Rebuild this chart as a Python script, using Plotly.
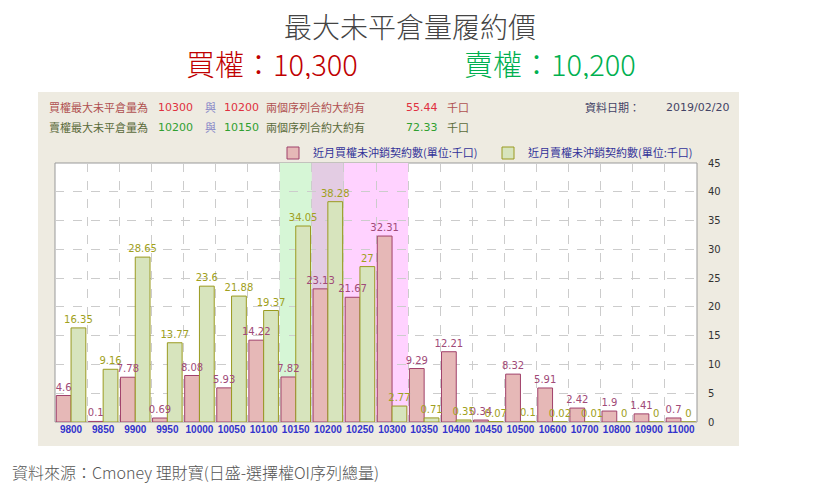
import plotly.graph_objects as go

strikes = ['9800', '9850', '9900', '9950', '10000', '10050', '10100', '10150', '10200', '10250',
           '10300', '10350', '10400', '10450', '10500', '10600', '10700', '10800', '10900', '11000']
call_oi = [4.6, 0.1, 7.78, 0.69, 8.08, 5.93, 14.22, 7.82, 23.13, 21.67,
           32.31, 9.29, 12.21, 0.34, 8.32, 5.91, 2.42, 1.9, 1.41, 0.7]
put_oi = [16.35, 9.16, 28.65, 13.77, 23.6, 21.88, 19.37, 34.05, 38.28, 27,
          2.77, 0.71, 0.35, 0.07, 0.1, 0.02, 0.01, 0, 0, 0]
y_ticks = [0, 5, 10, 15, 20, 25, 30, 35, 40, 45]

call_pair = ['10300', '10200']
put_pair = ['10200', '10150']
call_sum = '55.44'
put_sum = '72.33'
data_date = '2019/02/20'

# page puts the figure 8px in from the top-left corner
OFF = 8
W, H = 820, 495
L, R, T, B = 55 - OFF, 820 - 697 + OFF, 163 - OFF, 495 - 422 + OFF
pw, ph = W - L - R, H - T - B

def px(x):
    return (x - OFF - L) / pw

def py(y):
    return (H - B - (y - OFF)) / ph

cjk = 'Noto Sans CJK TC'
fig = go.Figure()

# bars first (no text), so labels drawn afterwards sit on top of every bar
fig.add_trace(go.Bar(
    x=strikes, y=call_oi, name='近月買權未沖銷契約數(單位:千口)', offsetgroup='c',
    marker=dict(color='#e6b8b7', line=dict(color='#a0406a', width=1)),
))
fig.add_trace(go.Bar(
    x=strikes, y=put_oi, name='近月賣權未沖銷契約數(單位:千口)', offsetgroup='p',
    marker=dict(color='#d7e4bd', line=dict(color='#9a9a20', width=1)),
))
for vals, grp, col in [(call_oi, 'c', '#a04a78'), (put_oi, 'p', '#a0a020')]:
    fig.add_trace(go.Bar(
        x=strikes, y=vals, offsetgroup=grp, showlegend=False, hoverinfo='skip',
        marker=dict(color='rgba(0,0,0,0)', line=dict(width=0)),
        text=[f'{v:g}' for v in vals], textposition='outside', constraintext='none',
        textfont=dict(color=col, size=10, family='DejaVu Sans'), cliponaxis=False,
    ))

# panel background + white plot area
shapes = [
    dict(type='rect', xref='paper', yref='paper', x0=px(38), x1=px(739), y0=py(446), y1=py(92),
         fillcolor='#eeebe1', line=dict(width=0), layer='below'),
    dict(type='rect', xref='paper', yref='paper', x0=0, x1=1, y0=0, y1=1,
         fillcolor='white', line=dict(color='#999999', width=1), layer='below'),
]

# highlight bands around max OI strikes
ci = sorted(strikes.index(s) for s in call_pair)
pi = sorted(strikes.index(s) for s in put_pair)
shapes.append(dict(type='rect', xref='x', yref='paper', x0=ci[0] - 0.5, x1=ci[1] + 0.5, y0=0, y1=1,
                   fillcolor='#ffd2ff', line=dict(width=0), layer='below'))
shapes.append(dict(type='rect', xref='x', yref='paper', x0=pi[0] - 0.5, x1=pi[1] + 0.5, y0=0, y1=1,
                   fillcolor='#d6f6d6', line=dict(width=0), layer='below'))
o0, o1 = max(ci[0], pi[0]), min(ci[1], pi[1])
if o0 <= o1:
    shapes.append(dict(type='rect', xref='x', yref='paper', x0=o0 - 0.5, x1=o1 + 0.5, y0=0, y1=1,
                       fillcolor='#e3cce3', line=dict(width=0), layer='below'))

ann = []

def txt(x, y, s, color, size=11, family=cjk, anchor='left', weight=None, height=None):
    f = dict(color=color, size=size, family=family)
    if weight:
        f['weight'] = weight
    a = dict(xref='paper', yref='paper', x=px(x), y=py(y), text=s, showarrow=False,
             xanchor=anchor, yanchor='middle', font=f)
    if height:
        a['height'] = height
    ann.append(a)

# titles
txt(410, 26, '最大未平倉量履約價', '#444444', 28, anchor='center', weight=300, height=30)
txt(272, 63, '買權：10,300', '#c00000', 29, anchor='center', weight=300, height=32)
txt(550, 63, '賣權：10,200', '#00b050', 29, anchor='center', weight=300, height=32)
txt(10, 472, '資料來源：Cmoney 理財寶(日盛-選擇權OI序列總量)', '#555555', 16, weight=300)

# header rows inside panel
num_font = 'DejaVu Sans'
txt(47, 107, '買權最大未平倉量為', '#b05050')
txt(156, 107, call_pair[0], '#e03040', 11, num_font)
txt(203, 107, '與', '#8888c8')
txt(222, 107, call_pair[1], '#e03040', 11, num_font)
txt(264, 107, '兩個序列合約大約有', '#b05050')
txt(404, 107, call_sum, '#e03040', 11, num_font)
txt(445, 107, '千口', '#b05050')
txt(583, 107, '資料日期：', '#444466')
txt(664, 107, data_date, '#444466', 11, num_font)

txt(47, 127, '賣權最大未平倉量為', '#5a6a3a')
txt(156, 127, put_pair[0], '#30a030', 11, num_font)
txt(203, 127, '與', '#8888c8')
txt(222, 127, put_pair[1], '#30a030', 11, num_font)
txt(264, 127, '兩個序列合約大約有', '#5a6a3a')
txt(404, 127, put_sum, '#30a030', 11, num_font)
txt(445, 127, '千口', '#5a6a3a')

fig.update_layout(
    width=W, height=H,
    margin=dict(l=L, r=R, t=T, b=B, autoexpand=False),
    paper_bgcolor='white', plot_bgcolor='rgba(0,0,0,0)',
    barmode='group', bargap=0.08, bargroupgap=0,
    shapes=shapes, annotations=ann,
    showlegend=True,
    legend=dict(orientation='h', x=px(273), y=py(153), xanchor='left', yanchor='middle',
                bgcolor='rgba(0,0,0,0)', entrywidth=170, itemwidth=30,
                font=dict(color='#333399', size=11, family=cjk)),
    xaxis=dict(type='category', tickson='boundaries', showgrid=True, griddash='dash',
               gridcolor='#cccccc', ticks='', showline=False, tickangle=0, automargin=False,
               tickfont=dict(color='#3333cc', size=10, family='Liberation Sans', weight='bold')),
    yaxis=dict(side='right', range=[0, 45], tickvals=y_ticks, showgrid=True, griddash='dash',
               gridcolor='#cccccc', zeroline=False, ticks='', ticklabelstandoff=10, automargin=False,
               tickfont=dict(color='#333333', size=10, family='DejaVu Sans')),
)

fig.write_html('out.html')
